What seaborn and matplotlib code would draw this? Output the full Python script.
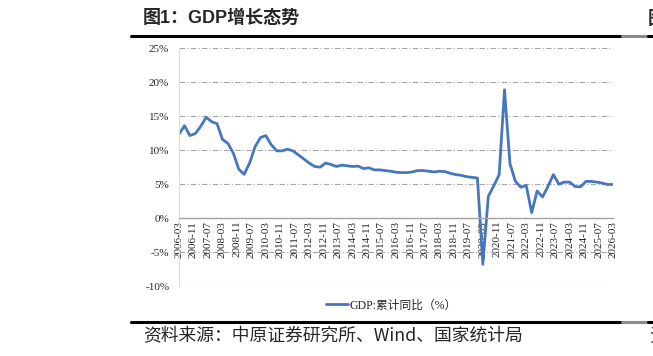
import pandas as pd
import matplotlib
matplotlib.use('Agg')
import matplotlib.pyplot as plt
from matplotlib.lines import Line2D
from matplotlib.ticker import FuncFormatter
import seaborn as sns

# Dados: GDP trimestral (%), 2006-03 a 2026-03
trimestres = pd.date_range('2006-03-01', '2026-03-01', freq='3MS')
gdp = [12.35, 13.6, 12.15, 12.45,
       13.5, 14.85, 14.2, 13.9,
       11.6, 11.0, 9.55, 7.2,
       6.45, 8.1, 10.5, 11.85,
       12.15, 10.8, 9.9, 9.9,
       10.15, 9.9, 9.3, 8.7,
       8.1, 7.6, 7.5, 8.1,
       7.9, 7.6, 7.8, 7.7,
       7.6, 7.65, 7.3, 7.4,
       7.1, 7.1, 7.0, 6.9,
       6.75, 6.7, 6.7, 6.8,
       7.0, 7.0, 6.9, 6.8,
       6.9, 6.85, 6.6, 6.4,
       6.3, 6.1, 6.0, 5.9,
       -6.8, 3.2, 4.75, 6.4,
       18.9, 8.0, 5.4, 4.55,
       4.8, 0.8, 4.0, 3.1,
       4.65, 6.4, 5.0, 5.3,
       5.3, 4.65, 4.6, 5.4,
       5.4, 5.3, 5.15, 4.95,
       4.95]
ticks_x = pd.date_range('2006-03-01', '2026-03-01', freq='8MS')
rotulos_x = [d.strftime('%Y-%m') for d in ticks_x]
ticks_y = [-10, -5, 0, 5, 10, 15, 20, 25]

titulo = '图1：GDP增长态势'
legenda = 'GDP:累计同比（%）'
fonte = '资料来源：中原证券研究所、Wind、国家统计局'

sns.set_style('white')
plt.rcParams['font.family'] = ['Liberation Serif', 'Noto Sans CJK SC']

df = pd.DataFrame({'data': trimestres, 'gdp': gdp})

fig = plt.figure(figsize=(6.53, 3.56), dpi=100)
ax = fig.add_axes([179 / 653, 0.1966, (613 - 179) / 653, 0.8643 - 0.1966])

cor_linha = '#4677BE'
sns.lineplot(data=df, x='data', y='gdp', ax=ax, color=cor_linha, linewidth=2.0, legend=False)

# Eixos
ax.set_xlim(ticks_x[0], ticks_x[-1])
ax.set_ylim(-10, 25)
ax.set_xlabel('')
ax.set_ylabel('')
ax.set_xticks(ticks_x, rotulos_x)
ax.set_yticks(ticks_y)
ax.yaxis.set_major_formatter(FuncFormatter(lambda v, p: f'{v:.0f}%'))
ax.tick_params(axis='y', length=0, pad=7, labelsize=8)
ax.tick_params(axis='x', length=0, pad=2, labelsize=8, labelrotation=90)

# Grade tracejada
ax.yaxis.grid(True, color='#a6a6a6', linewidth=0.8, linestyle=(0, (5, 2, 1, 2)))
ax.xaxis.grid(False)
ax.set_axisbelow(True)

for lado in ['top', 'right']:
    ax.spines[lado].set_visible(False)
ax.spines['left'].set_color('#e0e0d0')
ax.spines['left'].set_linewidth(0.8)
ax.spines['bottom'].set_position(('data', 0))
ax.spines['bottom'].set_color('#a6a6a6')
ax.spines['bottom'].set_linewidth(1.0)

# Legenda
handle = Line2D([], [], color=cor_linha, linewidth=2.0)
fig.legend([handle], [legenda], loc='center', bbox_to_anchor=(391 / 653, 1 - 305.5 / 356),
           frameon=False, fontsize=8.5, handlelength=1.9, handletextpad=0.1)

# Titulo, linhas e fonte
fig.text(143 / 653, 1 - 18 / 356, titulo, fontsize=13, fontweight='bold',
         family=['Liberation Sans', 'Noto Sans CJK SC'], va='center', ha='left')
fig.text(648 / 653, 1 - 18 / 356, '图2', fontsize=13, fontweight='bold',
         family=['Noto Sans CJK SC'], va='center', ha='left')

for y in [1 - 36 / 356, 1 - 321.7 / 356]:
    fig.add_artist(Line2D([131 / 653, 622 / 653], [y, y], color='black', linewidth=2.2))
    fig.add_artist(Line2D([622 / 653, 648 / 653], [y, y], color='#8c8c8c', linewidth=2.2))
    fig.add_artist(Line2D([648 / 653, 1.0], [y, y], color='black', linewidth=2.2))

fig.text(143 / 653, 1 - 336 / 356, fonte, fontsize=12.8,
         family=['Noto Sans CJK SC', 'Liberation Sans'], va='center', ha='left')
fig.text(649 / 653, 1 - 336 / 356, '资料', fontsize=12.8,
         family=['Noto Sans CJK SC'], va='center', ha='left')

fig.savefig('out.png', dpi=100)
